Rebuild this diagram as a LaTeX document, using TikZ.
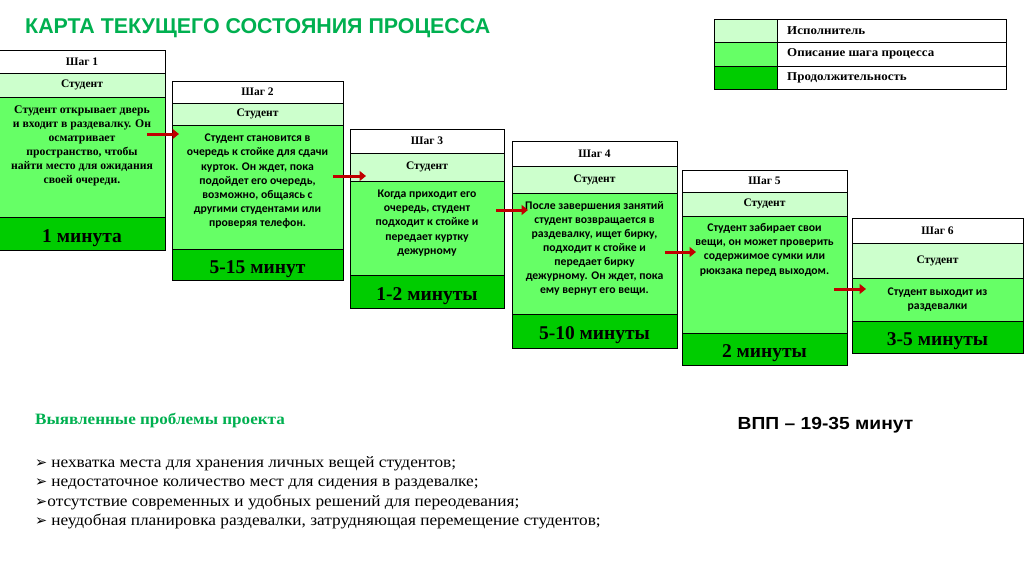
\documentclass[tikz,border=0pt]{standalone}
\usepackage{fontspec}
\setmainfont{Liberation Serif}
\setsansfont{Liberation Sans}
\newfontfamily\carl{Carlito}
\newfontfamily\djv{DejaVu Sans}
\newfontfamily\wideserif[FakeStretch=1.08]{Liberation Serif}
\newfontfamily\widesans[FakeStretch=1.1]{Liberation Sans}
\usetikzlibrary{arrows.meta}
\definecolor{lg}{HTML}{CCFFCC}
\definecolor{mg}{HTML}{66FF66}
\definecolor{dg}{HTML}{00CC00}
\definecolor{tgreen}{HTML}{00B050}
\definecolor{arred}{HTML}{C00000}
\newcommand{\bul}{{\djv\fontsize{14.5}{16}\selectfont ➢}}
\begin{document}
\begin{tikzpicture}[x=1pt,y=-1pt,
  cell/.style={draw=black, line width=1pt, inner sep=0pt, outer sep=0pt, anchor=north west,
    font=\bfseries\fontsize{11.5}{13}\selectfont},
  hdr/.style={cell, fill=white},
  stu/.style={cell, fill=lg},
  dsc/.style={cell, fill=mg},
  dur/.style={cell, fill=dg, text height=17pt, text depth=0pt, font=\bfseries\fontsize{19.5}{22}\selectfont},
  dtext/.style={anchor=north, inner sep=0pt, align=center,
    font=\carl\bfseries\fontsize{11.7}{14.1}\selectfont},
  legtext/.style={anchor=west, inner sep=0pt, font=\wideserif\bfseries\fontsize{12}{14}\selectfont},
  bullet/.style={anchor=base west, inner sep=0pt, font=\wideserif\fontsize{16}{18}\selectfont},
  flow/.style={draw=arred, line width=3pt, -{Triangle[length=6.5pt,width=10pt]}}]
\useasboundingbox (0,0) rectangle (1024,574);
\fill[white] (0,0) rectangle (1024,574);

% title
\node[anchor=west, inner sep=0pt, text=tgreen, font=\sffamily\bfseries\fontsize{21.4}{24}\selectfont]
  (title) at (25,28) {КАРТА ТЕКУЩЕГО СОСТОЯНИЯ ПРОЦЕССА};

% legend
\node[cell, fill=lg, minimum width=63pt, minimum height=23pt] (l1c) at (714,19.5) {};
\node[cell, fill=white, minimum width=229pt, minimum height=23pt] (l1t) at (777,19.5) {};
\node[cell, fill=mg, minimum width=63pt, minimum height=23.5pt] (l2c) at (714,42.5) {};
\node[cell, fill=white, minimum width=229pt, minimum height=23.5pt] (l2t) at (777,42.5) {};
\node[cell, fill=dg, minimum width=63pt, minimum height=23.5pt] (l3c) at (714,66) {};
\node[cell, fill=white, minimum width=229pt, minimum height=23.5pt] (l3t) at (777,66) {};
\node[legtext] (l1x) at ([xshift=10pt]l1t.west) {Исполнитель};
\node[legtext] (l2x) at ([xshift=10pt]l2t.west) {Описание шага процесса};
\node[legtext] (l3x) at ([xshift=10pt]l3t.west) {Продолжительность};

% step 1
\node[hdr, minimum width=166pt, minimum height=23pt] (h1) at (-1,50) {Шаг 1};
\node[stu, minimum width=166pt, minimum height=24pt] (p1) at (-1,73) {Студент};
\node[dsc, minimum width=166pt, minimum height=120pt] (d1) at (-1,97) {};
\node[dur, minimum width=166pt, minimum height=33pt] (t1) at (-1,217) {1 минута};
\node[dtext, font=\bfseries\fontsize{11.7}{14}\selectfont] (x1) at ([yshift=-9pt]d1.north)
  {Студент открывает дверь\\ и входит в раздевалку. Он\\ осматривает\\ пространство, чтобы\\ найти место для ожидания\\ своей очереди.};

% step 2
\node[hdr, minimum width=171pt, minimum height=22pt] (h2) at (172,81) {Шаг 2};
\node[stu, minimum width=171pt, minimum height=22pt] (p2) at (172,103) {Студент};
\node[dsc, minimum width=171pt, minimum height=124pt] (d2) at (172,125) {};
\node[dur, minimum width=171pt, minimum height=31pt] (t2) at (172,249) {5-15 минут};
\node[dtext] (x2) at ([yshift=-9pt]d2.north)
  {Студент становится в\\ очередь к стойке для сдачи\\ курток. Он ждет, пока\\ подойдет его очередь,\\ возможно, общаясь с\\ другими студентами или\\ проверяя телефон.};

% step 3
\node[hdr, minimum width=154pt, minimum height=24pt] (h3) at (350,129) {Шаг 3};
\node[stu, minimum width=154pt, minimum height=28pt] (p3) at (350,153) {Студент};
\node[dsc, minimum width=154pt, minimum height=94pt] (d3) at (350,181) {};
\node[dur, minimum width=154pt, minimum height=33pt] (t3) at (350,275) {1-2 минуты};
\node[dtext] (x3) at ([yshift=-9pt]d3.north)
  {Когда приходит его\\ очередь, студент\\ подходит к стойке и\\ передает куртку\\ дежурному};

% step 4
\node[hdr, minimum width=165pt, minimum height=25pt] (h4) at (512,141) {Шаг 4};
\node[stu, minimum width=165pt, minimum height=27pt] (p4) at (512,166) {Студент};
\node[dsc, minimum width=165pt, minimum height=121pt] (d4) at (512,193) {};
\node[dur, minimum width=165pt, minimum height=34pt] (t4) at (512,314) {5-10 минуты};
\node[dtext] (x4) at ([yshift=-8pt]d4.north)
  {После завершения занятий\\ студент возвращается в\\ раздевалку, ищет бирку,\\ подходит к стойке и\\ передает бирку\\ дежурному. Он ждет, пока\\ ему вернут его вещи.};

% step 5
\node[hdr, minimum width=165pt, minimum height=22pt] (h5) at (682,170) {Шаг 5};
\node[stu, minimum width=165pt, minimum height=24pt] (p5) at (682,192) {Студент};
\node[dsc, minimum width=165pt, minimum height=117pt] (d5) at (682,216) {};
\node[dur, minimum width=165pt, minimum height=32pt] (t5) at (682,333) {2 минуты};
\node[dtext] (x5) at ([yshift=-7.5pt]d5.north)
  {Студент забирает свои\\ вещи, он может проверить\\ содержимое сумки или\\ рюкзака перед выходом.};

% step 6
\node[hdr, minimum width=171pt, minimum height=25pt] (h6) at (852,218) {Шаг 6};
\node[stu, minimum width=171pt, minimum height=35pt] (p6) at (852,243) {Студент};
\node[dsc, minimum width=171pt, minimum height=43pt] (d6) at (852,278) {};
\node[dur, minimum width=171pt, minimum height=32pt] (t6) at (852,321) {3-5 минуты};
\node[dtext] (x6) at ([yshift=-9.5pt]d6.north) {Студент выходит из\\ раздевалки};

% arrows
\coordinate (a1s) at (147,134); \coordinate (a1e) at (179,134);
\coordinate (a2s) at (333,176); \coordinate (a2e) at (366,176);
\coordinate (a3s) at (496,210); \coordinate (a3e) at (528,210);
\coordinate (a4s) at (665,252); \coordinate (a4e) at (696,252);
\coordinate (a5s) at (834,289); \coordinate (a5e) at (866,289);
\draw[flow] (a1s) -- (a1e);
\draw[flow] (a2s) -- (a2e);
\draw[flow] (a3s) -- (a3e);
\draw[flow] (a4s) -- (a4e);
\draw[flow] (a5s) -- (a5e);

% VPP
\node[inner sep=0pt, font=\widesans\bfseries\fontsize{17.5}{20}\selectfont] (vpp) at (825.5,425) {ВПП – 19-35 минут};

% problems
\node[anchor=west, inner sep=0pt, text=tgreen, font=\wideserif\bfseries\fontsize{15.8}{18}\selectfont]
  (probh) at (35,421) {Выявленные проблемы проекта};
\node[bullet] (b1) at (35,467) {\bul\hspace{4pt}нехватка места для хранения личных вещей студентов;};
\node[bullet] (b2) at (35,486.5) {\bul\hspace{4pt}недостаточное количество мест для сидения в раздевалке;};
\node[bullet] (b3) at (35,506) {\bul\hspace{0pt}отсутствие современных и удобных решений для переодевания;};
\node[bullet] (b4) at (35,525.5) {\bul\hspace{4pt}неудобная планировка раздевалки, затрудняющая перемещение студентов;};
\end{tikzpicture}
\end{document}
